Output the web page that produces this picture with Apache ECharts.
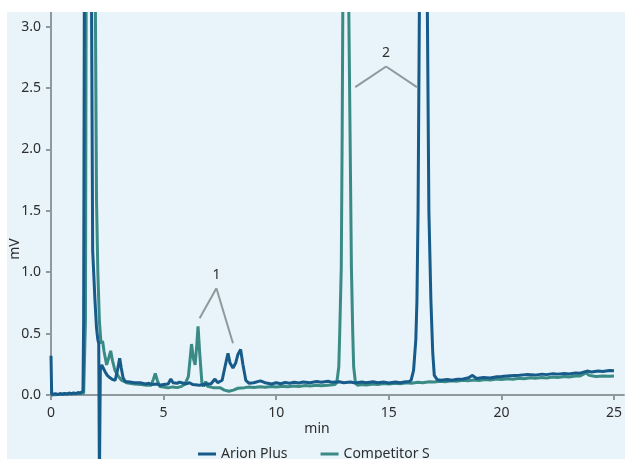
<!DOCTYPE html>
<html>
<head>
<meta charset="utf-8">
<script src="https://cdn.jsdelivr.net/npm/echarts@6/dist/echarts.min.js"></script>
<style>
  html, body { margin: 0; padding: 0; background: #ffffff; }
  #chart { width: 625px; height: 459px; }
</style>
</head>
<body>
<div id="chart"></div>
<script>
// ---------- data ----------
const seriesNames = ['Arion Plus', 'Competitor S'];

// Arion Plus chromatogram: [time (min), signal (mV)]
const arionPlus = [
  [0, 0.32], [0.03, 0.005], [0.2, 0.01], [0.3, 0.004], [0.4, 0.012], [0.5, 0.006], [0.6, 0.012],
  [0.7, 0.008], [0.8, 0.016], [0.9, 0.01], [1.0, 0.016], [1.1, 0.012], [1.2, 0.02], [1.3, 0.016],
  [1.38, 0.024], [1.42, 0.03], [1.45, 0.6], [1.48, 3.2],
  [1.64, 10], [1.80, 3.2], [1.85, 1.18], [1.95, 0.78], [2.02, 0.55], [2.08, 0.45],
  [2.12, 0.42], [2.15, -0.7], [2.19, 0.2], [2.25, 0.245], [2.32, 0.22], [2.4, 0.19],
  [2.5, 0.16], [2.62, 0.14], [2.75, 0.125], [2.85, 0.12], [2.95, 0.2], [3.05, 0.3],
  [3.12, 0.22], [3.2, 0.14], [3.3, 0.11], [3.5, 0.105], [3.7, 0.1], [3.95, 0.1],
  [4.2, 0.09], [4.35, 0.095], [4.5, 0.085], [4.7, 0.09], [4.83, 0.08], [5.0, 0.085], [5.2, 0.09], [5.32, 0.13],
  [5.42, 0.1], [5.6, 0.095], [5.7, 0.105], [5.8, 0.1], [6.0, 0.09], [6.15, 0.1], [6.3, 0.085], [6.6, 0.08],
  [6.9, 0.09], [7.1, 0.09], [7.28, 0.13], [7.4, 0.1], [7.6, 0.12], [7.75, 0.25],
  [7.86, 0.34], [7.95, 0.26], [8.08, 0.22], [8.2, 0.26], [8.3, 0.33], [8.42, 0.37],
  [8.52, 0.25], [8.65, 0.12], [8.8, 0.095], [9.0, 0.1], [9.3, 0.115], [9.5, 0.1],
  [9.8, 0.09], [10.0, 0.1], [10.2, 0.092], [10.4, 0.102], [10.6, 0.096], [10.8, 0.104], [11.0, 0.098],
  [11.2, 0.106], [11.5, 0.1], [11.8, 0.11], [12.0, 0.104], [12.3, 0.112], [12.5, 0.103], [12.8, 0.108],
  [13.0, 0.1], [13.3, 0.106], [13.5, 0.098], [13.8, 0.106], [14.0, 0.1], [14.3, 0.108], [14.5, 0.1],
  [14.8, 0.105], [15.0, 0.098], [15.3, 0.106], [15.5, 0.1], [15.75, 0.108],
  [15.9, 0.11], [15.99, 0.12], [16.1, 0.2], [16.2, 0.45], [16.25, 0.77],
  [16.3, 1.5], [16.36, 3.2], [16.53, 9], [16.71, 3.2], [16.78, 1.5], [16.87, 0.77],
  [16.95, 0.35], [17.02, 0.16], [17.15, 0.125], [17.32, 0.12], [17.6, 0.126], [17.8, 0.12],
  [18.05, 0.128], [18.3, 0.13], [18.55, 0.14], [18.7, 0.16], [18.9, 0.135], [19.2, 0.142],
  [19.5, 0.138], [19.8, 0.148], [20.0, 0.15], [20.4, 0.156], [20.8, 0.16], [21.1, 0.166], [21.5, 0.162],
  [21.8, 0.17], [22.0, 0.166], [22.3, 0.174], [22.5, 0.17], [22.8, 0.176], [23.0, 0.172], [23.3, 0.18],
  [23.5, 0.178], [23.8, 0.195], [24.0, 0.188], [24.3, 0.196], [24.5, 0.192], [24.8, 0.2], [25.0, 0.198]
];

// Competitor S chromatogram: [time (min), signal (mV)]
const competitorS = [
  [0, 0.0], [0.3, 0.005], [0.6, 0.008], [0.9, 0.01], [1.2, 0.012], [1.45, 0.015],
  [1.5, 0.02], [1.53, 0.6], [1.56, 3.2], [1.76, 10], [1.97, 3.2], [2.02, 1.6],
  [2.08, 1.0], [2.15, 0.6], [2.22, 0.42], [2.29, 0.44], [2.36, 0.35], [2.47, 0.245],
  [2.56, 0.3], [2.65, 0.36], [2.73, 0.28], [2.84, 0.2], [3.0, 0.15], [3.13, 0.12],
  [3.35, 0.1], [3.7, 0.09], [4.0, 0.085], [4.24, 0.08], [4.45, 0.08], [4.55, 0.13], [4.63, 0.175],
  [4.72, 0.12], [4.83, 0.07], [5.0, 0.065], [5.2, 0.058], [5.4, 0.066], [5.6, 0.06], [5.8, 0.07], [5.95, 0.09], [6.1, 0.15],
  [6.24, 0.415], [6.32, 0.3], [6.4, 0.245], [6.47, 0.4], [6.53, 0.56], [6.6, 0.35],
  [6.7, 0.1], [6.78, 0.07], [6.87, 0.11], [6.95, 0.07], [7.2, 0.06], [7.5, 0.06],
  [7.7, 0.04], [7.9, 0.03], [8.1, 0.04], [8.3, 0.055], [8.6, 0.06], [8.8, 0.066], [9.0, 0.062],
  [9.3, 0.068], [9.5, 0.064], [9.8, 0.07], [10.0, 0.066], [10.3, 0.072], [10.5, 0.068], [10.8, 0.074],
  [11.0, 0.07], [11.3, 0.077], [11.5, 0.073], [11.8, 0.079], [12.0, 0.075],
  [12.3, 0.08], [12.6, 0.085], [12.69, 0.1], [12.78, 0.23], [12.82, 0.5], [12.89, 1.04],
  [12.93, 2.13], [12.96, 3.2], [13.09, 10], [13.22, 3.2], [13.28, 2.13], [13.34, 1.04],
  [13.40, 0.5], [13.44, 0.23], [13.52, 0.1], [13.6, 0.08], [13.8, 0.086], [14.0, 0.082], [14.3, 0.09],
  [14.5, 0.086], [14.8, 0.093], [15.0, 0.089], [15.3, 0.096], [15.5, 0.092], [15.8, 0.1], [16.0, 0.096],
  [16.3, 0.103], [16.5, 0.1], [16.8, 0.108], [17.0, 0.105], [17.3, 0.112], [17.5, 0.108], [17.8, 0.116],
  [18.0, 0.112], [18.3, 0.12], [18.5, 0.116], [18.8, 0.123], [19.0, 0.119], [19.3, 0.126],
  [19.5, 0.122], [19.8, 0.13], [20.0, 0.126], [20.3, 0.133], [20.5, 0.129], [20.8, 0.136],
  [21.0, 0.132], [21.3, 0.14], [21.5, 0.136], [21.8, 0.143], [22.0, 0.139], [22.3, 0.146], [22.5, 0.142],
  [22.8, 0.15], [23.0, 0.146], [23.3, 0.154], [23.5, 0.155],
  [23.75, 0.18], [23.9, 0.16], [24.2, 0.15], [24.5, 0.155], [24.8, 0.152], [25.0, 0.155]
];

// tick labels
const xTicks = [0, 5, 10, 15, 20, 25];
const yTicks = [0, 0.5, 1.0, 1.5, 2.0, 2.5, 3.0];

// peak annotations: label, apex [t, mV], leg ends [t, mV]
const annotationLabels = ['1', '2'];
const annotationApex = [[7.345, 0.87], [14.88, 2.676]];
const annotationLegs = [
  [[6.60, 0.625], [8.08, 0.421]],
  [[13.51, 2.508], [16.25, 2.508]]
];

// ---------- chart ----------
const FONT = 'Noto Sans';
const AXIS_COLOR = '#8e989d';
const TEXT_COLOR = '#2e2e2e';
const COLORS = { 'Arion Plus': '#165b89', 'Competitor S': '#3a8a85' };

const markLineData = [];
annotationApex.forEach((apex, i) => {
  annotationLegs[i].forEach(end => {
    markLineData.push([{ coord: end }, { coord: apex }]);
  });
});
const markPointData = annotationApex.map((apex, i) => ({ coord: apex, value: annotationLabels[i] }));

const chart = echarts.init(document.getElementById('chart'), null, { renderer: 'canvas' });
chart.setOption({
  animation: false,
  backgroundColor: 'transparent',
  textStyle: { fontFamily: FONT },
  grid: { left: 51, top: 12, right: 0, bottom: 64, containLabel: false },
  legend: {
    data: seriesNames,
    left: 193,
    top: 442,
    icon: 'rect',
    itemWidth: 18,
    itemHeight: 3,
    itemGap: 33,
    textStyle: { color: TEXT_COLOR, fontSize: 14, fontFamily: FONT }
  },
  graphic: [
    { type: 'rect', z: -10, shape: { x: 7, y: 12, width: 618, height: 447 }, style: { fill: '#e8f4f9' } },
    { type: 'rect', z: 100, shape: { x: 0, y: 0, width: 625, height: 12 }, style: { fill: '#ffffff' } },
    { type: 'text', z: 101, x: 15, y: 249, rotation: Math.PI / 2,
      style: { text: 'mV', fontSize: 14, fontFamily: FONT, fill: TEXT_COLOR, align: 'center', verticalAlign: 'middle' } },
    { type: 'text', z: 101, x: 317, y: 429,
      style: { text: 'min', fontSize: 14, fontFamily: FONT, fill: TEXT_COLOR, align: 'center', verticalAlign: 'middle' } }
  ],
  xAxis: {
    type: 'value', min: 0, max: 25.44,
    axisLine: { show: true, onZero: false, lineStyle: { color: AXIS_COLOR, width: 2 } },
    axisTick: { show: true, length: 5, customValues: xTicks, lineStyle: { color: AXIS_COLOR, width: 2 } },
    axisLabel: { customValues: xTicks, margin: 11, color: TEXT_COLOR, fontSize: 14, fontFamily: FONT },
    splitLine: { show: false }
  },
  yAxis: {
    type: 'value', min: 0, max: 3.12,
    axisLine: { show: true, onZero: false, lineStyle: { color: AXIS_COLOR, width: 2 } },
    axisTick: { show: true, length: 5, customValues: yTicks, lineStyle: { color: AXIS_COLOR, width: 2 } },
    axisLabel: { customValues: yTicks, margin: 10, color: TEXT_COLOR, fontSize: 14, fontFamily: FONT,
      formatter: v => Number(v).toFixed(1) },
    splitLine: { show: false }
  },
  series: [
    {
      name: 'Competitor S', type: 'line', data: competitorS, showSymbol: false, clip: false,
      lineStyle: { color: COLORS['Competitor S'], width: 3 },
      itemStyle: { color: COLORS['Competitor S'] }, z: 2
    },
    {
      name: 'Arion Plus', type: 'line', data: arionPlus, showSymbol: false, clip: false,
      lineStyle: { color: COLORS['Arion Plus'], width: 3 },
      itemStyle: { color: COLORS['Arion Plus'] }, z: 3,
      markLine: {
        silent: true, symbol: ['none', 'none'], animation: false,
        label: { show: false },
        lineStyle: { color: '#8e999e', width: 2, type: 'solid' },
        emphasis: { disabled: true },
        data: markLineData
      },
      markPoint: {
        silent: true, symbol: 'circle', symbolSize: 1, animation: false,
        itemStyle: { color: 'rgba(0,0,0,0)' },
        label: { show: true, position: 'top', distance: 6, formatter: p => p.value,
          color: TEXT_COLOR, fontSize: 14, fontFamily: FONT },
        data: markPointData
      }
    }
  ]
});
</script>
</body>
</html>
